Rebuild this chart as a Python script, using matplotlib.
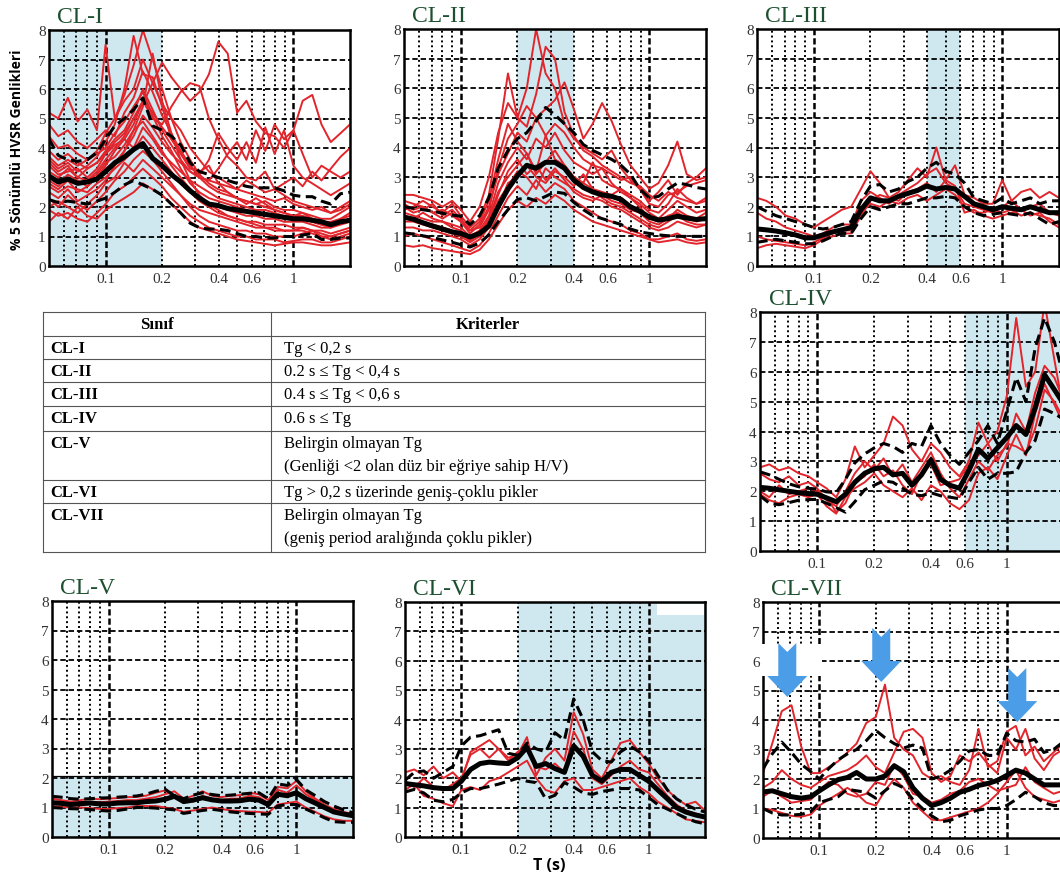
"""HVSR spectral ratio classes CL-I .. CL-VII and the Tg criteria table.

Each panel shows individual station H/V curves (red), the class mean (thick
black) and mean +/- one standard deviation (dashed black) against period on a
log axis. The shaded band marks the Tg range that defines the class.
"""

import matplotlib

matplotlib.use("Agg")

import matplotlib.pyplot as plt  # noqa: E402
from matplotlib.patches import Polygon, Rectangle  # noqa: E402
from matplotlib.ticker import NullLocator  # noqa: E402
from matplotlib.transforms import ScaledTranslation  # noqa: E402

FIG_W, FIG_H = 1060, 878

# Period samples (s) shared by every curve below.
PERIOD = [0.05, 0.056, 0.063, 0.071, 0.08, 0.09, 0.1, 0.112, 0.126, 0.141, 0.158,
          0.178, 0.2, 0.224, 0.251, 0.282, 0.316, 0.355, 0.398, 0.447, 0.501, 0.562,
          0.631, 0.708, 0.794, 0.891, 1.0, 1.12, 1.26, 1.41, 1.58, 1.78, 2.0]

# ---- CL-I ----
CL1_MEAN = [3.05, 2.85, 2.95, 2.8, 2.85, 2.95, 3.2, 3.5, 3.7, 3.95, 4.15,
            3.65, 3.4, 3.1, 2.85, 2.55, 2.3, 2.1, 2.05, 1.95, 1.9, 1.85,
            1.8, 1.75, 1.7, 1.65, 1.6, 1.6, 1.55, 1.5, 1.4, 1.5, 1.55]
CL1_UPPER = [4.3, 3.75, 3.6, 3.55, 3.6, 3.85, 4.3, 4.75, 5.0, 5.3, 5.7,
             4.75, 4.6, 4.4, 4.1, 3.5, 3.2, 3.1, 3.0, 2.9, 2.8, 2.7,
             2.65, 2.65, 2.65, 2.55, 2.4, 2.35, 2.35, 2.2, 2.1, 2.45, 2.5]
CL1_LOWER = [2.25, 2.15, 2.2, 2.15, 2.1, 2.2, 2.3, 2.5, 2.75, 2.9, 2.75,
             2.6, 2.4, 2.1, 1.8, 1.45, 1.3, 1.25, 1.25, 1.2, 1.1, 1.0,
             1.0, 0.95, 0.95, 1.0, 1.0, 1.05, 1.1, 0.9, 0.9, 0.95, 0.95]
CL1_RECORDS = [
    [5.2, 5.0, 5.7, 4.9, 5.3, 4.6, 7.5, 5.0, 5.6, 6.0, 7.0,
     6.2, 5.5, 5.0, 4.6, 4.0, 3.6, 3.2, 3.0, 2.8, 2.6, 2.5,
     2.4, 2.3, 2.2, 2.3, 2.1, 2.0, 1.9, 2.0, 1.8, 1.9, 2.1],
    [3.5, 3.2, 3.4, 3.0, 3.3, 3.5, 3.8, 4.2, 4.5, 5.0, 5.5,
     6.2, 6.9, 6.4, 6.0, 5.6, 5.9, 6.5, 7.6, 7.2, 5.2, 5.6,
     4.9, 4.5, 4.4, 4.0, 4.6, 3.8, 3.0, 3.4, 3.2, 3.0, 3.2],
    [2.8, 2.6, 2.9, 2.5, 2.7, 3.0, 3.4, 3.9, 4.3, 4.8, 5.6,
     5.0, 4.8, 5.4, 5.9, 6.2, 6.1, 5.0, 4.3, 3.7, 3.4, 3.0,
     2.9, 3.2, 2.6, 2.4, 2.2, 2.1, 2.0, 1.9, 1.8, 2.0, 2.2],
    [3.0, 2.8, 3.1, 2.9, 2.7, 3.0, 3.3, 3.5, 3.9, 4.4, 5.1,
     4.7, 4.2, 3.8, 3.5, 3.2, 3.0, 2.9, 3.3, 3.8, 4.2, 3.6,
     4.6, 3.9, 4.8, 4.3, 4.6, 5.6, 5.8, 4.8, 4.2, 4.5, 4.8],
    [4.4, 4.0, 4.1, 3.8, 3.6, 3.9, 4.5, 5.0, 5.8, 6.8, 8.0,
     7.0, 6.0, 5.0, 4.2, 3.6, 3.1, 2.8, 2.6, 2.5, 2.3, 2.2,
     2.1, 2.0, 1.9, 1.8, 1.7, 1.8, 1.6, 1.5, 1.4, 1.6, 1.8],
    [3.6, 3.3, 3.5, 3.2, 3.4, 3.7, 4.2, 4.8, 6.0, 7.8, 6.5,
     6.4, 5.4, 4.3, 3.8, 3.3, 3.2, 3.4, 2.8, 2.5, 2.3, 2.1,
     2.3, 2.1, 1.9, 1.8, 1.7, 1.6, 1.5, 1.4, 1.3, 1.5, 1.6],
    [1.5, 1.8, 1.6, 2.0, 1.7, 1.6, 1.9, 2.1, 2.3, 2.5, 2.8,
     2.6, 2.4, 2.1, 1.8, 1.5, 1.3, 1.2, 1.1, 1.0, 0.9, 0.85,
     0.8, 0.75, 0.7, 0.75, 0.8, 0.8, 0.75, 0.7, 0.7, 0.75, 0.8],
    [2.3, 2.0, 2.4, 2.1, 1.9, 2.2, 2.5, 2.9, 3.2, 3.6, 3.9,
     3.6, 3.2, 2.8, 2.4, 2.0, 1.7, 1.5, 1.4, 1.3, 1.2, 1.2,
     1.1, 1.1, 1.0, 1.0, 1.0, 1.1, 1.2, 1.0, 0.9, 1.0, 1.1],
    [3.2, 3.0, 3.3, 3.0, 2.9, 3.1, 3.5, 3.7, 4.1, 4.6, 4.9,
     4.4, 3.9, 3.4, 3.0, 2.6, 2.3, 2.1, 2.0, 1.9, 1.8, 1.7,
     1.7, 1.6, 1.6, 1.5, 1.5, 1.5, 1.4, 1.3, 1.3, 1.4, 1.5],
    [2.7, 2.5, 2.7, 2.6, 2.5, 2.8, 3.0, 3.3, 3.6, 3.9, 4.4,
     4.0, 3.6, 3.2, 2.8, 2.5, 2.2, 2.0, 1.8, 1.7, 1.6, 1.5,
     1.5, 1.4, 1.4, 1.4, 1.3, 1.3, 1.2, 1.2, 1.1, 1.2, 1.3],
    [3.9, 3.6, 3.8, 3.5, 3.3, 3.5, 3.9, 4.3, 4.6, 5.2, 6.0,
     5.3, 4.6, 4.1, 3.6, 3.2, 3.0, 2.9, 2.8, 2.7, 2.6, 2.9,
     2.7, 2.5, 2.6, 2.8, 3.0, 2.7, 3.2, 2.9, 3.3, 3.7, 4.0],
    [4.8, 4.4, 4.6, 4.2, 4.0, 4.3, 4.6, 4.4, 5.2, 5.7, 6.6,
     5.9, 5.1, 4.5, 3.9, 3.4, 3.0, 2.7, 2.5, 2.4, 2.3, 2.2,
     2.1, 2.2, 2.0, 1.9, 1.9, 1.8, 1.7, 1.6, 1.6, 1.8, 2.0],
    [2.9, 2.7, 3.0, 2.8, 2.9, 3.2, 3.6, 4.0, 4.4, 5.0, 5.6,
     5.2, 4.7, 4.3, 3.9, 3.4, 3.1, 3.6, 4.5, 4.0, 3.6, 4.2,
     3.5, 4.7, 3.8, 4.6, 3.4, 3.0, 2.8, 2.6, 2.4, 2.6, 2.8],
    [2.0, 2.2, 2.0, 1.8, 2.1, 2.4, 2.8, 3.0, 3.5, 3.2, 3.6,
     3.3, 3.0, 2.7, 2.4, 2.1, 1.9, 1.8, 1.7, 1.6, 1.5, 1.4,
     1.3, 1.3, 1.2, 1.2, 1.2, 1.3, 1.2, 1.1, 1.0, 1.1, 1.2],
    [3.4, 3.1, 3.2, 3.3, 3.0, 3.3, 3.8, 4.1, 4.3, 4.0, 4.7,
     4.3, 3.8, 3.5, 3.2, 2.9, 2.7, 2.5, 2.3, 2.2, 2.1, 2.0,
     1.9, 1.9, 1.8, 1.7, 1.7, 1.7, 1.6, 1.5, 1.5, 1.6, 1.7],
    [2.5, 2.3, 2.6, 2.2, 2.4, 2.6, 2.9, 3.4, 3.9, 4.6, 5.4,
     7.2, 5.6, 4.5, 3.6, 2.9, 2.4, 2.1, 1.9, 1.7, 1.6, 1.5,
     1.4, 1.3, 1.3, 1.2, 1.2, 1.2, 1.1, 1.0, 1.0, 1.1, 1.2],
    [3.7, 3.4, 3.6, 3.4, 3.6, 3.8, 4.0, 4.5, 4.9, 5.4, 5.9,
     5.1, 4.4, 3.9, 3.3, 2.8, 2.5, 2.3, 2.2, 2.1, 2.0, 1.9,
     1.8, 1.8, 1.7, 1.6, 1.6, 1.6, 1.5, 1.4, 1.4, 1.5, 1.6],
    [1.9, 1.7, 1.8, 1.6, 1.5, 1.8, 2.1, 2.5, 2.7, 3.0, 3.3,
     3.0, 2.7, 2.3, 2.0, 1.7, 1.5, 1.3, 1.2, 1.1, 1.0, 1.0,
     0.9, 0.9, 0.9, 0.8, 0.85, 0.9, 0.9, 0.8, 0.8, 0.9, 1.0],
]

# ---- CL-II ----
CL2_MEAN = [1.65, 1.58, 1.46, 1.35, 1.25, 1.15, 1.1, 0.98, 1.1, 1.35, 2.0,
            2.6, 3.05, 3.4, 3.3, 3.5, 3.5, 3.3, 2.9, 2.65, 2.5, 2.4,
            2.35, 2.25, 2.0, 1.85, 1.65, 1.55, 1.6, 1.68, 1.62, 1.57, 1.6]
CL2_UPPER = [2.0, 1.95, 1.9, 1.85, 1.78, 1.72, 1.68, 1.4, 1.7, 2.3, 3.3,
             3.9, 4.3, 4.5, 4.9, 5.35, 5.1, 4.8, 4.5, 4.1, 3.9, 3.75,
             3.6, 3.4, 3.1, 2.6, 2.3, 2.35, 2.6, 2.8, 2.75, 2.65, 2.6]
CL2_LOWER = [1.12, 1.08, 1.02, 0.96, 0.88, 0.8, 0.72, 0.64, 0.78, 1.05, 1.5,
             1.9, 2.25, 2.3, 2.2, 2.35, 2.5, 2.45, 2.15, 1.9, 1.7, 1.6,
             1.5, 1.4, 1.25, 1.15, 1.1, 1.05, 1.02, 1.0, 1.0, 1.0, 1.0]
CL2_RECORDS = [
    [2.4, 2.4, 2.3, 2.2, 2.0, 2.2, 1.9, 1.5, 2.0, 3.0, 4.5,
     5.5, 5.0, 6.0, 8.0, 6.5, 6.0, 4.8, 4.3, 4.0, 3.8, 3.6,
     3.9, 3.3, 2.9, 2.6, 2.2, 2.5, 2.9, 2.4, 2.8, 3.0, 3.3],
    [1.9, 2.0, 2.2, 2.0, 1.8, 2.1, 1.7, 1.3, 1.6, 2.4, 4.3,
     6.5, 5.0, 4.7, 5.8, 7.4, 7.0, 5.2, 4.4, 3.9, 3.7, 3.4,
     3.2, 3.0, 2.8, 2.7, 2.4, 2.2, 2.5, 2.3, 2.2, 2.1, 2.3],
    [2.2, 2.1, 2.0, 1.8, 1.9, 1.7, 1.5, 1.2, 1.3, 1.9, 3.3,
     4.3, 4.8, 5.4, 5.0, 5.3, 5.6, 6.2, 5.3, 4.3, 4.8, 5.5,
     4.9, 4.1, 3.4, 3.0, 2.6, 2.8, 3.4, 4.2, 3.1, 2.9, 3.0],
    [1.7, 1.6, 1.8, 1.6, 1.5, 1.4, 1.3, 1.0, 1.2, 1.7, 2.8,
     3.5, 4.0, 3.6, 4.3, 4.0, 4.5, 3.9, 3.5, 3.3, 3.1, 3.3,
     2.8, 2.5, 2.3, 2.1, 1.8, 1.6, 1.9, 2.2, 2.0, 1.8, 1.9],
    [1.5, 1.5, 1.4, 1.3, 1.2, 1.1, 1.0, 0.8, 1.0, 1.4, 2.2,
     2.7, 3.2, 3.0, 2.6, 3.3, 3.0, 2.8, 2.6, 2.4, 2.3, 2.2,
     2.0, 1.9, 1.7, 1.5, 1.3, 1.2, 1.3, 1.5, 1.4, 1.3, 1.4],
    [1.0, 1.1, 1.0, 0.9, 0.8, 0.7, 0.6, 0.5, 0.7, 1.1, 1.7,
     2.3, 2.7, 2.4, 2.9, 2.5, 2.8, 2.6, 2.2, 2.0, 1.8, 1.6,
     1.5, 1.4, 1.2, 1.1, 0.9, 0.9, 1.0, 1.1, 0.9, 0.85, 0.9],
    [0.7, 0.65, 0.7, 0.6, 0.55, 0.5, 0.45, 0.4, 0.55, 0.9, 1.4,
     1.9, 2.2, 2.0, 2.3, 2.1, 2.4, 2.2, 1.9, 1.7, 1.5, 1.4,
     1.3, 1.2, 1.1, 1.0, 0.9, 0.8, 0.85, 0.9, 0.8, 0.75, 0.8],
    [2.0, 1.8, 1.9, 2.1, 1.7, 1.9, 1.6, 1.2, 1.5, 2.2, 3.6,
     4.8, 4.2, 3.8, 3.2, 4.4, 3.6, 3.4, 3.0, 2.8, 3.5, 2.9,
     2.7, 2.6, 2.4, 2.2, 1.9, 1.8, 2.1, 2.6, 2.3, 2.1, 2.2],
    [1.8, 1.7, 1.6, 1.5, 1.5, 1.3, 1.2, 0.9, 1.1, 1.6, 2.5,
     3.0, 3.4, 3.8, 3.1, 3.5, 3.9, 3.4, 3.0, 2.8, 2.6, 2.5,
     2.4, 2.6, 2.3, 2.0, 1.6, 1.5, 1.7, 1.8, 1.6, 1.5, 1.6],
    [1.3, 1.3, 1.2, 1.2, 1.1, 1.0, 0.9, 0.7, 0.9, 1.3, 2.0,
     2.8, 3.0, 3.4, 3.0, 2.8, 3.2, 3.0, 2.7, 3.1, 2.6, 2.3,
     2.1, 2.0, 1.8, 1.6, 1.4, 1.3, 1.5, 1.7, 1.5, 1.4, 1.4],
    [2.1, 1.9, 2.0, 1.8, 1.6, 1.8, 1.5, 1.1, 1.4, 2.0, 3.1,
     3.8, 4.5, 4.2, 5.0, 4.4, 4.8, 4.5, 4.0, 3.6, 3.4, 3.3,
     3.1, 2.9, 3.0, 2.6, 2.1, 2.0, 2.4, 2.5, 2.7, 2.8, 2.9],
    [1.6, 1.6, 1.5, 1.4, 1.3, 1.2, 1.1, 0.85, 1.1, 1.5, 2.4,
     3.2, 3.6, 3.1, 3.4, 2.9, 3.3, 2.9, 2.5, 2.3, 2.2, 2.4,
     2.2, 2.1, 1.9, 1.8, 1.5, 1.4, 1.6, 1.9, 1.7, 1.6, 1.8],
]

# ---- CL-III ----
CL3_MEAN = [1.25, 1.22, 1.18, 1.12, 1.05, 0.95, 0.95, 1.05, 1.15, 1.22, 1.3,
            1.9, 2.3, 2.2, 2.2, 2.35, 2.45, 2.55, 2.7, 2.6, 2.65, 2.6,
            2.35, 2.1, 2.0, 1.9, 2.0, 1.95, 1.9, 2.0, 1.9, 1.8, 1.8]
CL3_UPPER = [2.0, 1.85, 1.7, 1.6, 1.5, 1.4, 1.3, 1.25, 1.3, 1.4, 1.5,
             2.2, 2.7, 2.75, 2.5, 2.6, 2.85, 3.0, 3.3, 3.5, 3.2, 3.1,
             2.8, 2.3, 2.2, 2.1, 2.3, 2.1, 2.2, 2.3, 2.1, 2.2, 2.2]
CL3_LOWER = [0.8, 0.85, 0.9, 0.85, 0.8, 0.75, 0.75, 0.85, 1.0, 1.1, 1.1,
             1.6, 2.0, 1.9, 2.0, 2.1, 2.1, 2.2, 2.3, 2.3, 2.35, 2.3,
             2.0, 1.8, 1.7, 1.75, 1.8, 1.75, 1.7, 1.8, 1.6, 1.4, 1.5]
CL3_RECORDS = [
    [2.3, 2.2, 2.0, 1.7, 1.6, 1.4, 1.3, 1.5, 1.7, 1.9, 2.0,
     2.6, 3.2, 2.8, 2.3, 2.5, 2.9, 3.3, 3.0, 4.0, 2.9, 3.4,
     2.4, 2.3, 2.1, 2.1, 2.9, 2.2, 2.5, 2.6, 2.3, 2.5, 2.3],
    [1.8, 1.6, 1.5, 1.3, 1.2, 1.1, 1.0, 1.1, 1.3, 1.4, 1.4,
     2.2, 2.5, 2.3, 2.1, 2.4, 2.6, 2.8, 3.1, 3.3, 2.8, 2.6,
     2.1, 2.0, 1.9, 1.8, 2.0, 2.2, 1.9, 2.0, 2.1, 1.8, 1.7],
    [1.0, 0.9, 0.85, 0.8, 0.75, 0.7, 0.8, 0.95, 1.1, 1.2, 1.2,
     1.8, 2.1, 2.0, 2.2, 2.1, 2.3, 2.4, 2.2, 2.4, 2.6, 2.4,
     2.0, 1.8, 1.8, 1.9, 1.8, 1.9, 1.7, 1.8, 1.7, 1.6, 1.4],
    [0.6, 0.7, 0.75, 0.7, 0.65, 0.6, 0.7, 0.9, 1.0, 1.1, 1.1,
     1.7, 2.2, 2.4, 2.3, 2.2, 2.5, 2.6, 2.8, 2.5, 2.9, 2.7,
     1.8, 1.9, 1.7, 1.6, 1.7, 1.8, 1.9, 1.7, 1.8, 1.5, 1.3],
]

# ---- CL-IV ----
CL4_MEAN = [2.13, 2.1, 2.05, 2.0, 1.95, 1.92, 1.9, 1.78, 1.65, 1.9, 2.3,
            2.6, 2.75, 2.8, 2.55, 2.6, 2.2, 2.55, 3.05, 2.4, 2.2, 2.1,
            2.7, 3.4, 3.1, 3.45, 3.8, 4.2, 3.9, 4.8, 5.9, 5.4, 4.9]
CL4_UPPER = [2.65, 2.55, 2.4, 2.25, 2.15, 2.1, 2.07, 1.98, 1.95, 2.4, 2.95,
             3.25, 3.45, 3.6, 3.5, 3.3, 3.6, 3.5, 4.2, 3.6, 3.2, 2.9,
             3.3, 3.7, 4.2, 3.6, 4.7, 5.8, 5.0, 6.8, 7.8, 7.0, 5.8]
CL4_LOWER = [1.85, 1.6, 1.55, 1.62, 1.7, 1.72, 1.73, 1.6, 1.45, 1.3, 1.65,
             2.05, 2.2, 2.35, 2.3, 2.1, 1.9, 1.85, 1.95, 1.85, 1.8, 1.75,
             2.3, 2.8, 2.4, 2.6, 2.6, 2.65, 3.3, 3.7, 4.75, 4.6, 4.4]
CL4_RECORDS = [
    [2.8, 2.9, 2.7, 2.8, 2.6, 2.5, 2.3, 2.1, 1.8, 2.4, 3.5,
     2.8, 3.2, 3.6, 4.5, 4.2, 3.4, 3.0, 3.6, 3.3, 2.8, 2.5,
     3.0, 4.3, 3.6, 4.0, 5.2, 7.8, 5.5, 6.0, 8.3, 6.4, 4.6],
    [2.6, 2.4, 2.3, 2.5, 2.2, 2.3, 2.1, 1.7, 1.5, 2.0, 2.6,
     3.0, 2.7, 3.1, 2.5, 2.9, 2.3, 2.8, 3.3, 2.6, 2.1, 1.8,
     2.4, 3.0, 2.7, 3.2, 3.5, 4.6, 4.0, 5.3, 6.2, 5.8, 5.0],
    [2.0, 1.8, 2.2, 1.9, 2.0, 2.1, 2.0, 1.8, 1.3, 1.6, 2.3,
     2.5, 2.9, 2.5, 2.7, 2.2, 1.9, 2.6, 2.9, 2.2, 2.3, 2.4,
     2.9, 3.2, 3.6, 3.0, 3.6, 3.5, 3.3, 4.1, 5.4, 5.0, 4.4],
    [1.9, 1.7, 1.6, 1.8, 1.9, 1.8, 1.9, 1.5, 1.25, 1.8, 2.1,
     2.3, 2.6, 2.2, 2.0, 1.8, 2.1, 1.7, 2.2, 2.0, 1.6, 1.4,
     1.7, 2.6, 2.8, 2.4, 3.2, 3.9, 3.2, 4.6, 5.6, 4.9, 4.2],
]

# ---- CL-V ----
CL5_MEAN = [1.16, 1.14, 1.1, 1.13, 1.15, 1.12, 1.12, 1.15, 1.16, 1.16, 1.2,
            1.22, 1.28, 1.38, 1.2, 1.25, 1.33, 1.26, 1.22, 1.22, 1.23, 1.28,
            1.25, 1.1, 1.45, 1.4, 1.5, 1.3, 1.15, 1.0, 0.85, 0.78, 0.72]
CL5_UPPER = [1.38, 1.35, 1.3, 1.28, 1.3, 1.32, 1.33, 1.35, 1.37, 1.39, 1.45,
             1.55, 1.62, 1.4, 1.3, 1.42, 1.5, 1.44, 1.4, 1.42, 1.45, 1.48,
             1.5, 1.3, 1.8, 1.75, 1.95, 1.6, 1.4, 1.2, 1.05, 0.92, 0.82]
CL5_LOWER = [1.0, 0.98, 0.96, 0.95, 0.93, 0.9, 0.88, 0.9, 0.95, 1.0, 1.0,
             0.98, 0.95, 0.92, 0.8, 0.85, 0.9, 0.94, 0.9, 0.85, 0.82, 0.8,
             0.78, 0.77, 1.05, 1.1, 1.1, 0.95, 0.8, 0.65, 0.52, 0.5, 0.5]
CL5_RECORDS = [
    [1.3, 1.25, 1.2, 1.25, 1.3, 1.28, 1.3, 1.32, 1.35, 1.36, 1.4,
     1.5, 1.58, 1.35, 1.28, 1.4, 1.55, 1.4, 1.35, 1.4, 1.42, 1.5,
     1.45, 1.25, 1.7, 1.65, 1.9, 1.55, 1.3, 1.1, 0.95, 0.85, 0.78],
    [1.05, 1.02, 1.0, 1.0, 0.98, 0.95, 0.95, 0.98, 1.0, 1.05, 1.05,
     1.05, 1.0, 0.95, 0.85, 0.9, 0.95, 1.0, 0.95, 0.9, 0.88, 0.86,
     0.85, 0.82, 1.1, 1.15, 1.2, 1.0, 0.85, 0.7, 0.6, 0.55, 0.55],
    [1.2, 1.2, 1.15, 1.18, 1.2, 1.18, 1.2, 1.22, 1.25, 1.25, 1.3,
     1.35, 1.45, 1.55, 1.3, 1.2, 1.4, 1.3, 1.25, 1.3, 1.3, 1.4,
     1.35, 1.15, 1.6, 1.5, 1.75, 1.45, 1.25, 1.05, 0.9, 0.8, 0.7],
]

# ---- CL-VI ----
CL6_MEAN = [1.82, 1.78, 1.74, 1.68, 1.65, 1.65, 1.9, 2.3, 2.5, 2.55, 2.52,
            2.5, 2.7, 3.05, 2.4, 2.5, 2.33, 2.2, 3.1, 2.75, 2.1, 1.9,
            2.2, 2.3, 2.3, 2.1, 1.9, 1.6, 1.3, 1.0, 0.85, 0.75, 0.68]
CL6_UPPER = [1.93, 2.2, 2.25, 2.0, 2.2, 2.4, 3.1, 3.4, 3.45, 3.55, 3.65,
             2.85, 2.78, 3.2, 3.0, 2.9, 3.55, 3.3, 4.7, 4.0, 2.9, 2.6,
             2.55, 2.9, 3.1, 2.9, 2.6, 2.1, 1.6, 1.3, 1.1, 0.95, 0.85]
CL6_LOWER = [1.53, 1.62, 1.5, 1.25, 1.2, 1.28, 1.5, 1.65, 1.65, 1.72, 1.8,
             1.9, 2.0, 1.9, 1.85, 1.3, 1.42, 1.85, 1.7, 1.5, 1.45, 1.55,
             1.6, 1.65, 1.65, 1.6, 1.35, 1.1, 0.95, 0.8, 0.65, 0.52, 0.45]
CL6_RECORDS = [
    [2.2, 2.3, 2.1, 2.4, 2.0, 2.2, 1.9, 2.9, 3.1, 3.3, 3.0,
     2.7, 2.8, 3.4, 2.1, 2.7, 3.0, 2.6, 4.25, 3.5, 2.3, 2.0,
     2.6, 3.2, 3.3, 2.9, 2.5, 2.0, 1.6, 1.3, 1.1, 1.2, 0.9],
    [1.9, 1.7, 2.0, 1.7, 1.6, 1.8, 2.0, 2.8, 3.0, 2.7, 3.0,
     2.6, 2.9, 3.1, 2.4, 2.3, 2.5, 2.2, 3.6, 3.0, 2.0, 1.8,
     2.1, 2.4, 2.6, 2.3, 2.2, 1.8, 1.4, 1.1, 0.9, 0.8, 0.7],
    [1.6, 1.8, 1.4, 1.3, 1.15, 1.05, 1.6, 1.7, 1.6, 1.9, 2.0,
     2.2, 2.4, 2.6, 2.0, 1.6, 1.5, 1.9, 2.0, 1.6, 1.6, 1.7,
     1.8, 1.9, 2.0, 1.7, 1.5, 1.2, 1.0, 0.8, 0.6, 0.55, 0.5],
]

# ---- CL-VII ----
CL7_MEAN = [1.56, 1.6, 1.5, 1.4, 1.35, 1.4, 1.6, 1.8, 1.98, 2.05, 2.22,
            2.0, 2.0, 2.1, 2.45, 2.25, 1.7, 1.35, 1.1, 1.2, 1.35, 1.55,
            1.65, 1.78, 1.85, 1.95, 2.12, 2.3, 2.2, 2.0, 1.8, 1.8, 1.8]
CL7_UPPER = [2.35, 2.85, 3.25, 2.9, 2.5, 2.25, 2.0, 2.35, 2.65, 2.85, 3.0,
             3.3, 3.65, 3.4, 3.2, 3.05, 3.15, 3.05, 2.0, 2.1, 2.3, 2.6,
             2.95, 3.0, 2.8, 2.8, 3.55, 3.3, 3.25, 3.35, 2.9, 3.0, 3.25]
CL7_LOWER = [1.0, 0.85, 0.78, 0.78, 0.8, 0.9, 1.2, 1.3, 1.4, 1.65, 1.6,
             1.55, 1.35, 1.6, 1.85, 1.7, 1.3, 1.0, 0.75, 0.55, 0.6, 0.75,
             0.85, 0.95, 1.0, 1.0, 1.1, 1.3, 1.55, 1.4, 1.2, 1.1, 1.1]
CL7_RECORDS = [
    [2.2, 3.2, 4.3, 4.5, 3.1, 2.2, 2.2, 2.4, 2.6, 2.9, 3.2,
     3.9, 4.1, 5.2, 3.4, 3.0, 2.8, 2.2, 2.0, 2.1, 1.9, 1.8,
     2.3, 3.7, 2.4, 2.6, 3.6, 3.8, 2.8, 3.1, 2.6, 2.9, 3.2],
    [1.7, 1.9, 2.3, 2.0, 1.8, 1.7, 1.9, 2.1, 2.2, 2.3, 2.5,
     2.8, 2.4, 2.2, 2.9, 3.6, 3.7, 3.4, 2.2, 1.9, 2.1, 2.8,
     2.6, 2.9, 2.5, 2.2, 3.4, 3.0, 3.7, 2.7, 2.3, 2.8, 3.0],
    [1.0, 0.95, 0.85, 0.75, 0.72, 0.8, 1.1, 1.3, 1.5, 1.7, 1.5,
     1.2, 1.1, 1.6, 2.0, 1.7, 1.2, 0.9, 0.62, 0.6, 0.7, 0.8,
     0.9, 1.0, 1.2, 1.5, 1.9, 2.3, 1.7, 1.4, 1.3, 1.2, 1.3],
    [1.4, 1.6, 1.4, 1.2, 1.25, 1.3, 1.6, 1.9, 1.8, 1.5, 1.4,
     1.5, 1.9, 1.8, 2.5, 2.1, 1.5, 1.4, 1.2, 1.3, 1.5, 1.6,
     1.9, 2.0, 1.8, 1.6, 1.7, 1.8, 2.4, 1.9, 1.7, 1.5, 1.6],
]

# Peaks flagged in CL-VII (period s, amplitude)
CL7_PEAK_MARKS = [(0.0674, 4.78), (0.214, 5.29), (1.14, 3.93)]

# ---- criteria table ----
TABLE_HEADER = ["Sınıf", "Kriterler"]
TABLE_CLASSES = ["CL-I", "CL-II", "CL-III", "CL-IV", "CL-V", "CL-VI", "CL-VII"]
TABLE_CRITERIA = [
    ["Tg < 0,2 s"],
    ["0.2 s ≤ Tg < 0,4 s"],
    ["0.4 s ≤ Tg < 0,6 s"],
    ["0.6 s ≤ Tg"],
    ["Belirgin olmayan Tg", "(Genliği <2 olan düz bir eğriye sahip H/V)"],
    ["Tg > 0,2 s üzerinde geniş-çoklu pikler"],
    ["Belirgin olmayan Tg", "(geniş period aralığında çoklu pikler)"],
]

X_TICKS = [0.1, 0.2, 0.4, 0.6, 1]
X_TICK_LABELS = ["0.1", "0.2", "0.4", "0.6", "1"]
GRID_MINOR = [0.06, 0.07, 0.08, 0.09, 0.2, 0.3, 0.4, 0.5, 0.6, 0.7, 0.8, 0.9]
GRID_MAJOR = [0.1, 1.0]
GRID_Y = [1, 2, 3, 4, 5, 6, 7]

RED = "#E2252C"
SHADE = "#CFE8EF"
TITLE_GREEN = "#1D5030"
ARROW_BLUE = "#4A9DE6"
TICK_GREY = "#333333"
SERIF = ["Liberation Serif", "DejaVu Serif"]
SANS = ["Open Sans", "DejaVu Sans"]

# panel frames in pixels: (left, top, right, bottom)
PANELS = [
    dict(name="CL-I", box=(49, 31, 350, 267), span=("x", 0.05, 0.2), blank=(0.84, 0.985),
         records=CL1_RECORDS, mean=CL1_MEAN, upper=CL1_UPPER, lower=CL1_LOWER),
    dict(name="CL-II", box=(404, 30, 706, 267), span=("x", 0.2, 0.4), blank=(0.82, 0.995),
         records=CL2_RECORDS, mean=CL2_MEAN, upper=CL2_UPPER, lower=CL2_LOWER),
    dict(name="CL-III", box=(757, 30, 1059, 267), span=("x", 0.4, 0.6), blank=(0.85, 0.99),
         records=CL3_RECORDS, mean=CL3_MEAN, upper=CL3_UPPER, lower=CL3_LOWER),
    dict(name="CL-IV", box=(760, 313, 1064, 552), span=("x", 0.6, 2.0), blank=None,
         records=CL4_RECORDS, mean=CL4_MEAN, upper=CL4_UPPER, lower=CL4_LOWER),
    dict(name="CL-V", box=(52, 602, 353, 838), span=("y", 0.0, 2.07), blank=(0.84, 0.98),
         records=CL5_RECORDS, mean=CL5_MEAN, upper=CL5_UPPER, lower=CL5_LOWER),
    dict(name="CL-VI", box=(405, 603, 705, 838), span=("x", 0.2, 2.0), blank=(0.84, 0.995),
         records=CL6_RECORDS, mean=CL6_MEAN, upper=CL6_UPPER, lower=CL6_LOWER),
    dict(name="CL-VII", box=(763, 603, 1063, 839), span=None, blank=(0.83, 0.995),
         records=CL7_RECORDS, mean=CL7_MEAN, upper=CL7_UPPER, lower=CL7_LOWER),
]

TABLE_BOX = (43, 313, 705, 553)
TABLE_SPLIT = 271
TABLE_ROWS = [313, 337, 360, 383, 407, 432, 481, 504, 553]

# block arrow outline in pixels, tip at origin
ARROW_SHAPE = [(0, 0), (-20, 21), (-9, 21), (-9, 54), (0, 45), (9, 54), (9, 21), (20, 21)]

plt.rcParams["font.family"] = SERIF


def px_axes(fig, left, top, right, bottom):
    return fig.add_axes([left / FIG_W, 1 - bottom / FIG_H,
                         (right - left) / FIG_W, (bottom - top) / FIG_H])


def draw_panel(fig, p):
    ax = px_axes(fig, *p["box"])
    ax.set_xscale("log")
    ax.set_xlim(0.05, 2.0)
    ax.set_ylim(0, 8)

    if p["span"] is not None:
        kind, lo, hi = p["span"]
        if kind == "x":
            ax.axvspan(lo, hi, facecolor=SHADE, lw=0, zorder=0)
        else:
            ax.axhspan(lo, hi, facecolor=SHADE, edgecolor="black", lw=0.9, zorder=0)

    for x in GRID_MINOR:
        ax.axvline(x, color="black", lw=1.4, ls=(0, (1, 1.5)), zorder=1)
    for x in GRID_MAJOR:
        ax.axvline(x, color="black", lw=1.8, ls=(0, (2.5, 1.2)), zorder=1)
    for y in GRID_Y:
        ax.axhline(y, color="black", lw=1.3, ls=(0, (3, 1.6)), zorder=1)

    if p["blank"] is not None:
        x0, x1 = p["blank"]
        ax.add_patch(Rectangle((x0, 0.945), x1 - x0, 0.048, transform=ax.transAxes,
                               facecolor="white", edgecolor="none", zorder=1.5))

    for rec in p["records"]:
        ax.plot(PERIOD, rec, color=RED, lw=1.4, zorder=2)
    for band in (p["upper"], p["lower"]):
        ax.plot(PERIOD, band, color="black", lw=2.2, ls=(0, (3.5, 1.8)), zorder=3)
    ax.plot(PERIOD, p["mean"], color="black", lw=3.6, zorder=4,
            solid_joinstyle="round", solid_capstyle="round")

    ax.xaxis.set_minor_locator(NullLocator())
    ax.set_xticks(X_TICKS, labels=X_TICK_LABELS)
    ax.set_yticks(range(9))
    ax.tick_params(axis="both", length=0, labelsize=11, labelcolor=TICK_GREY)
    ax.tick_params(axis="x", pad=4)
    ax.tick_params(axis="y", pad=2.5)
    for sp in ax.spines.values():
        sp.set_linewidth(1.8)
        sp.set_zorder(5)

    ax.text(0.028, 1.034, p["name"], transform=ax.transAxes, fontsize=17,
            color=TITLE_GREEN, ha="left", va="baseline")
    return ax


def draw_arrow(fig, ax, x, y):
    # outline is given in pixels, anchored at the data point of the tip
    trans = fig.dpi_scale_trans + ScaledTranslation(x, y, ax.transData)
    verts = [(dx / fig.dpi, dy / fig.dpi) for dx, dy in ARROW_SHAPE]
    ax.add_patch(Polygon(verts, closed=True, transform=trans, facecolor=ARROW_BLUE,
                         edgecolor="none", zorder=7, clip_on=False))


def draw_table(fig):
    left, top, right, bottom = TABLE_BOX
    tab = fig.add_axes([left / FIG_W, 1 - bottom / FIG_H,
                        (right - left) / FIG_W, (bottom - top) / FIG_H])
    tab.set_xlim(left, right)
    tab.set_ylim(bottom, top)
    tab.axis("off")

    line_kw = dict(color="#555555", lw=0.8, clip_on=False)
    for y in TABLE_ROWS:
        tab.plot([left, right], [y, y], **line_kw)
    for x in (left, TABLE_SPLIT, right):
        tab.plot([x, x], [top, bottom], **line_kw)

    hy = (TABLE_ROWS[0] + TABLE_ROWS[1]) / 2
    tab.text((left + TABLE_SPLIT) / 2, hy, TABLE_HEADER[0], fontsize=12,
             fontweight="bold", ha="center", va="center")
    tab.text((TABLE_SPLIT + right) / 2, hy, TABLE_HEADER[1], fontsize=12,
             fontweight="bold", ha="center", va="center")

    for i, (cls, lines) in enumerate(zip(TABLE_CLASSES, TABLE_CRITERIA)):
        y0 = TABLE_ROWS[i + 1] + 12
        tab.text(left + 7, y0, cls, fontsize=12, fontweight="bold",
                 ha="left", va="center")
        for k, line in enumerate(lines):
            tab.text(TABLE_SPLIT + 13, y0 + 23 * k, line, fontsize=12,
                     ha="left", va="center")


fig = plt.figure(figsize=(FIG_W / 100, FIG_H / 100), dpi=100)
fig.patch.set_facecolor("white")

axes = [draw_panel(fig, p) for p in PANELS]

# CL-VII: peak arrows, with the white backing of the first arrow over the frame
ax7 = axes[-1]
ax7.add_patch(Rectangle((-0.006, 0.686), 0.203, 0.136, transform=ax7.transAxes,
                        facecolor="white", edgecolor="none", zorder=6, clip_on=False))
for x, y in CL7_PEAK_MARKS:
    draw_arrow(fig, ax7, x, y)

draw_table(fig)

fig.text(17 / FIG_W, 1 - 150 / FIG_H, "% 5 Sönümlü HVSR Genlikleri", rotation=90,
         family=SANS, fontweight="bold", fontsize=10, ha="center", va="center")
fig.text(549 / FIG_W, 1 - 866 / FIG_H, "T (s)", family=SANS, fontweight="bold",
         fontsize=11.5, ha="center", va="center")

fig.savefig("out.png", dpi=100)
